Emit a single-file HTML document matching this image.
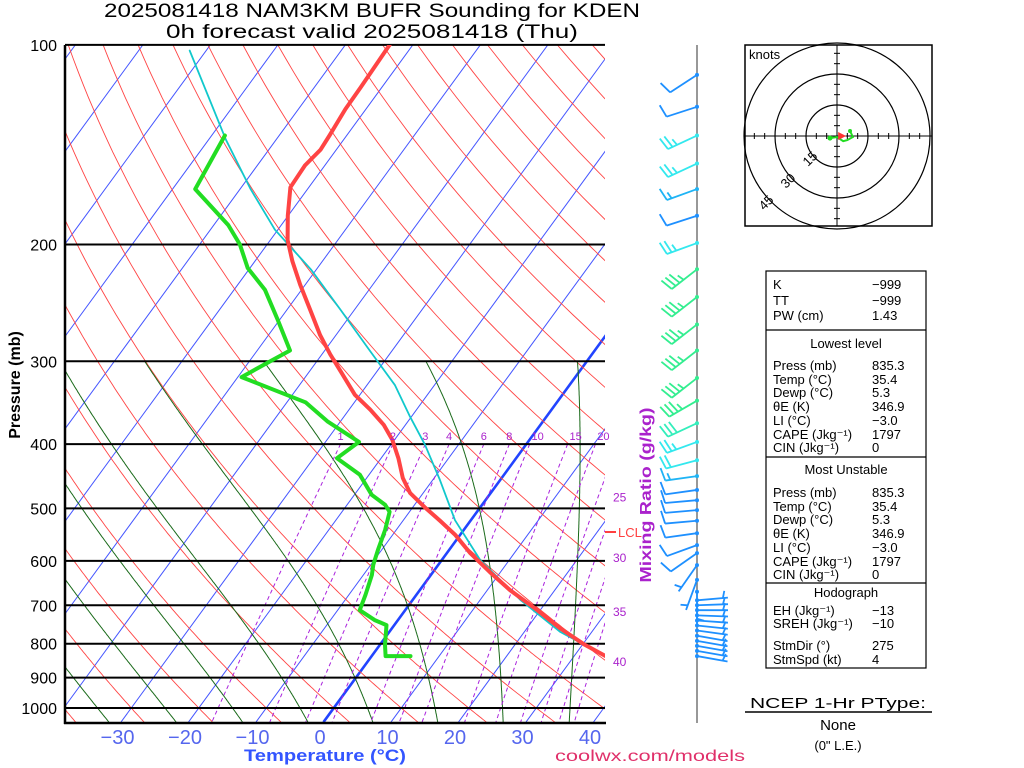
<!DOCTYPE html>
<html><head><meta charset="utf-8"><style>
html,body{margin:0;padding:0;background:#fff;}
svg{display:block;font-family:"Liberation Sans",sans-serif;}
</style></head><body>
<svg id="chart" width="1024" height="768" viewBox="0 0 1024 768" xmlns="http://www.w3.org/2000/svg">
<defs><clipPath id="plotclip"><rect x="65" y="45" width="540" height="678"/></clipPath></defs>
<rect x="0" y="0" width="1024" height="768" fill="#fff"/>
<text x="372" y="17" font-size="19" text-anchor="middle" textLength="536" lengthAdjust="spacingAndGlyphs">2025081418 NAM3KM BUFR Sounding for KDEN</text>
<text x="372" y="38" font-size="19" text-anchor="middle" textLength="412" lengthAdjust="spacingAndGlyphs">0h forecast valid 2025081418 (Thu)</text>
<g id="bg" clip-path="url(#plotclip)"></g>
<g id="isobars"></g>
<g id="profiles" clip-path="url(#plotclip)"></g>
<g id="labels"></g>
<g id="winds"></g>
<text transform="translate(20,385) rotate(-90)" font-size="16" font-weight="bold" text-anchor="middle">Pressure (mb)</text>
<text x="325" y="761" font-size="17" font-weight="bold" fill="#3355ff" text-anchor="middle" textLength="162" lengthAdjust="spacingAndGlyphs">Temperature (°C)</text>
<text x="650" y="761" font-size="16" fill="#e0306a" text-anchor="middle" textLength="190" lengthAdjust="spacingAndGlyphs">coolwx.com/models</text>
<text transform="translate(651,495) rotate(-90)" font-size="16" font-weight="bold" fill="#aa22cc" text-anchor="middle" textLength="175" lengthAdjust="spacingAndGlyphs">Mixing Ratio (g/kg)</text>
<line x1="605" y1="532" x2="616" y2="532" stroke="#ff4040" stroke-width="2"/>
<text x="618" y="537" font-size="13" fill="#ff4040">LCL</text>
<g id="hodo"></g>
<g id="table" font-size="13"></g>
<g>
<text x="838" y="708" font-size="15" text-anchor="middle" textLength="176" lengthAdjust="spacingAndGlyphs">NCEP 1-Hr PType:</text>
<line x1="745" y1="712" x2="932" y2="712" stroke="#000" stroke-width="1.5"/>
<text x="838" y="730" font-size="15" text-anchor="middle">None</text>
<text x="838" y="750" font-size="13" text-anchor="middle">(0" L.E.)</text>
</g>
</svg>
<script>
// ===== data =====
const tempP=[835,803,757,707,664,624,584,548,521,498,474,450,420,394,374,355,337,311,293,274,251,230,212,197,181,164,152,144,137,125,116,100];
const tempT=[35.4,31.1,25.5,19.7,14.1,9.2,4.2,0,-3.9,-7.5,-11.2,-13.9,-16.7,-19.6,-22.5,-26.1,-30.0,-34.6,-38.0,-41.6,-45.8,-50.0,-53.7,-56.7,-59.3,-62.0,-62.2,-61.6,-61.8,-62.3,-62.4,-62.7];
const dewP=[835,835,803,750,737,712,675,630,608,578,539,506,494,477,445,420,397,370,346,317,302,289,260,234,217,200,187,165,137];
const dewT=[6.5,2.8,1.5,-0.4,-2.7,-6.0,-6.8,-8.0,-8.9,-9.8,-10.9,-12.2,-13.6,-16.7,-20.6,-25.8,-24.3,-31.1,-36.5,-48.7,-46.5,-44.4,-49.5,-54.7,-59.6,-63.3,-67.1,-75.9,-77.3];
const parcelP=[835,768,687,598,521,453,401,362,326,289,251,218,190,165,139,102];
const parcelT=[35.4,26.1,16.7,6.4,-1.6,-8.2,-14.2,-19.7,-25.1,-32.6,-41.3,-50.1,-59.7,-67.7,-76.7,-91.7];
const windP=[111,124,137,151,165,181,199,218,240,264,289,318,344,372,397,423,447,469,486,503,522,545,568,584,609,641,668,688,700,712,725,738,751,764,778,792,806,820,835];
const windDir=[237,252,245,245,250,252,250,232,232,232,232,232,240,245,250,255,262,262,265,265,265,262,250,235,215,200,180,85,88,90,92,94,96,98,100,100,100,100,100];
const windSpd=[10,10,25,25,15,10,25,35,35,35,35,35,35,30,25,20,15,10,10,10,10,10,10,10,5,5,5,5,5,5,5,5,5,5,5,5,5,5,5];
const hodoU=[-3.4,0,3,5,7.7,6.3];
const hodoV=[-1,-0.5,-2.5,-2,-0.5,2.4];
const stormU=[2.5], stormV=[0];
const isobarLevels=[100,200,300,400,500,600,700,800,900,1000];
const tempTicks=[-30,-20,-10,0,10,20,30,40];
const mixRatios=[1,2,3,4,6,8,10,15,20,25,30,35,40];
const mixLabelP=[400,400,400,400,400,400,400,400,400,480,592,714,849];
// ===== scales =====
const NS='http://www.w3.org/2000/svg';
const GRID_OFF=5;
function yP(p){return 708-288*Math.log(1000/p);}
function xTP(T,p){return 320+6.75*T+0.73*(720-yP(p));}
function xG(T,p){return xTP(T,p)+GRID_OFF;}
function el(tag,attrs,parent){const e=document.createElementNS(NS,tag);for(const k in attrs)e.setAttribute(k,attrs[k]);parent.appendChild(e);return e;}
function pathFrom(pts){return pts.map((q,i)=>(i?'L':'M')+q[0].toFixed(1)+','+q[1].toFixed(1)).join('');}
const bg=document.getElementById('bg');
const pmin=95,pmax=1050;
// isotherms
for(let T=-140;T<=40;T+=10){
  const l=el('line',{x1:xG(T,pmax),y1:yP(pmax),x2:xG(T,pmin),y2:yP(pmin),stroke:T===0?'#2244ff':'#4455ff','stroke-width':T===0?2.6:1},bg);
  
  
}
// dry adiabats
for(let th=233.15;th<=483.15;th+=10){
  const pts=[];for(let p=pmin;p<=pmax;p+=5){pts.push([xG(th*Math.pow(p/1000,0.286)-273.15,p),yP(p)]);}
  const e=el('path',{d:pathFrom(pts),fill:'none',stroke:'#ff4444','stroke-width':0.9},bg);
  
  
}
// moist adiabats
function es(T){return 6.112*Math.exp(17.67*T/(T+243.5));}
function moistLapse(Tc,p){const T=Tc+273.15;const e=es(Tc);const rs=0.622*e/(p-e);const Rd=287,cp=1004,Lv=2.5e6;
  return (1/p)*(Rd*T+Lv*rs)/(cp+Lv*Lv*rs*0.622/(Rd*T*T));}
for(let T0=-75;T0<=45;T0+=10){
  const pts=[];let T=T0;
  let T2=T0;const low=[];for(let p=1000;p<=pmax;p+=2){low.push([xG(T2,p),yP(p)]);T2+=moistLapse(T2,p)*2;}
  for(let p=1000;p>=300;p-=2){pts.push([xG(T,p),yP(p)]);T-=moistLapse(T,p)*2;}
  const all=low.reverse().concat(pts);
  const e=el('path',{d:pathFrom(all),fill:'none',stroke:'#1a6a1a','stroke-width':1},bg);
  
  
}
// mixing ratio
function tdW(w,p){const e=p*w/(622+w);const a=Math.log(e/6.112);return 243.5*a/(17.67-a);}
const lab=document.getElementById('labels');
mixRatios.forEach((w,i)=>{
  const pts=[];const ptop=w<=20?400:150;for(let p=ptop;p<=pmax;p+=5)pts.push([xG(tdW(w,p),p),yP(p)]);
  const e=el('path',{d:pathFrom(pts),fill:'none',stroke:'#aa22dd','stroke-width':1,'stroke-dasharray':'4,3'},bg);
  
  
  let t;
  if(w<=20){const extra=w>=10?8:0;t=el('text',{x:xG(tdW(w,400),400)+extra,y:440,'font-size':11,fill:'#aa22cc','text-anchor':'middle'},lab);}
  else{t=el('text',{x:613,y:yP(mixLabelP[i])+5,'font-size':12,fill:'#aa22cc'},lab);}
  t.textContent=w;
  
  
});
// isobars and frame
const iso=document.getElementById('isobars');
isobarLevels.forEach(p=>{
  const l=el('line',{x1:65,x2:605,y1:yP(p),y2:yP(p),stroke:'#000','stroke-width':2},iso);
  
  
  const t=el('text',{x:57,y:yP(p)+6,'font-size':16,'text-anchor':'end'},lab);t.textContent=p;
  
  
});
el('line',{x1:65,x2:65,y1:45,y2:724,stroke:'#000','stroke-width':2.5},iso);
el('line',{x1:64,x2:606,y1:723,y2:723,stroke:'#000','stroke-width':2.5},iso);
tempTicks.forEach(T=>{
  const t=el('text',{x:320+6.75*T,y:744,'font-size':20,fill:'#5566ee','text-anchor':'middle'},lab);
  t.textContent=(T<0?'\u2212'+(-T):T);
  
  
});
// profiles
const prof=document.getElementById('profiles');
function series(P,T,color,w,name){
  const e=el('path',{d:pathFrom(P.map((p,i)=>[xTP(T[i],p),yP(p)])),fill:'none',stroke:color,'stroke-width':w,'stroke-linejoin':'round','stroke-linecap':'round'},prof);
  
  
}
series(parcelP,parcelT,'#11c8cc',1.8,'parcel-trace');
series(dewP,dewT,'#22dd22',4,'dewpoint-line');
series(tempP,tempT,'#ff4444',4,'temperature-line');
// winds
const wg=document.getElementById('winds');
el('line',{x1:697,x2:697,y1:45,y2:723,stroke:'#777','stroke-width':1.5},wg);
function spdColor(s){if(s<=10)return '#1e90ff';if(s<=15)return '#1fb4f5';if(s<=25)return '#33e8ee';if(s<=30)return '#33eebb';return '#33ee90';}
windP.forEach((p,i)=>{
  const y=yP(p),x0=697,s=windSpd[i],r=windDir[i]*Math.PI/180;
  const sx=Math.sin(r),sy=-Math.cos(r);let px=-sy,py=sx;if(py>0){px=-px;py=-py;}
  const L=i>=27?31:32;const ex=x0+L*sx,ey=y+L*sy;const c=spdColor(s);
  const g=el('g',{stroke:c,'stroke-width':1.8,fill:'none'},wg);
  
  
  el('line',{x1:x0,y1:y,x2:ex,y2:ey},g);
  el('circle',{cx:x0,cy:y,r:2,fill:c,stroke:'none'},g);
  let rem=s,k=0;
  while(rem>=10){const bx=ex-k*5*sx,by=ey-k*5*sy;el('line',{x1:bx,y1:by,x2:bx+13*px+3*sx,y2:by+13*py+3*sy},g);rem-=10;k++;}
  if(rem>=5){if(k===0)k=1;const bx=ex-k*5*sx,by=ey-k*5*sy;el('line',{x1:bx,y1:by,x2:bx+7*px+2*sx,y2:by+7*py+2*sy},g);}
});
// hodograph
const hg=document.getElementById('hodo');const cx=837,cy=136,ks=31/15;
el('rect',{x:745,y:45,width:187,height:181,fill:'none',stroke:'#000','stroke-width':1.5},hg);
[15,30,45].forEach(v=>el('circle',{cx:cx,cy:cy,r:v*ks,fill:'none',stroke:'#000','stroke-width':1.2},hg));
el('line',{x1:745,x2:932,y1:cy,y2:cy,stroke:'#000','stroke-width':1},hg);
el('line',{x1:cx,x2:cx,y1:45,y2:226,stroke:'#000','stroke-width':1},hg);
for(let v=-45;v<=45;v+=5){if(!v)continue;el('line',{x1:cx+v*ks,x2:cx+v*ks,y1:cy-3,y2:cy+3,stroke:'#000'},hg);el('line',{x1:cx-3,x2:cx+3,y1:cy+v*ks,y2:cy+v*ks,stroke:'#000'},hg);}
[[15,'15'],[30,'30'],[45,'45']].forEach(([v,t])=>{const a=Math.PI*0.75;const X=cx+Math.cos(a)*v*ks-2,Y=cy+Math.sin(a)*v*ks+4;const tt=el('text',{x:X,y:Y,'font-size':13,'text-anchor':'middle',transform:`rotate(-45 ${X} ${Y})`},hg);tt.textContent=t;});
const kn=el('text',{x:749,y:59,'font-size':13},hg);kn.textContent='knots';
const ht=el('path',{d:pathFrom(hodoU.map((u,i)=>[cx+u*ks,cy-hodoV[i]*ks])),fill:'none',stroke:'#22dd22','stroke-width':2},hg);


el('circle',{cx:cx+hodoU[0]*ks,cy:cy-hodoV[0]*ks,r:2.5,fill:'#22dd22'},hg);
el('circle',{cx:cx+hodoU[hodoU.length-1]*ks,cy:cy-hodoV[hodoV.length-1]*ks,r:2,fill:'#22dd22'},hg);
const sm=el('path',{d:`M${cx+stormU[0]*ks-4},${cy-stormV[0]*ks-4}l8,4l-8,4z`,fill:'#ff3333'},hg);


// table
const tb=document.getElementById('table');
el('rect',{x:766,y:271,width:160,height:397,fill:'none',stroke:'#000','stroke-width':1.2},tb);
[330,457,583].forEach(y=>el('line',{x1:766,x2:926,y1:y,y2:y,stroke:'#000','stroke-width':1.2},tb));
const rows=[['K','\u2212999',289],['TT','\u2212999',305],['PW (cm)','1.43',320],
['Press (mb)','835.3',370],['Temp (°C)','35.4',384],['Dewp (°C)','5.3',397],['θE (K)','346.9',411],['LI (°C)','\u22123.0',425],['CAPE (Jkg⁻¹)','1797',439],['CIN (Jkg⁻¹)','0',452],
['Press (mb)','835.3',497],['Temp (°C)','35.4',511],['Dewp (°C)','5.3',524],['θE (K)','346.9',538],['LI (°C)','\u22123.0',552],['CAPE (Jkg⁻¹)','1797',566],['CIN (Jkg⁻¹)','0',579],
['EH (Jkg⁻¹)','\u221213',615],['SREH (Jkg⁻¹)','\u221210',628],['StmDir (°)','275',650],['StmSpd (kt)','4',664]];
rows.forEach(r=>{const a=el('text',{x:773,y:r[2]},tb);a.textContent=r[0];
 const b=el('text',{x:872,y:r[2]},tb);b.textContent=r[1];});
[['Lowest level',348],['Most Unstable',474],['Hodograph',597]].forEach(h=>{const t=el('text',{x:846,y:h[1],'text-anchor':'middle'},tb);t.textContent=h[0];});
</script>
</body></html>
